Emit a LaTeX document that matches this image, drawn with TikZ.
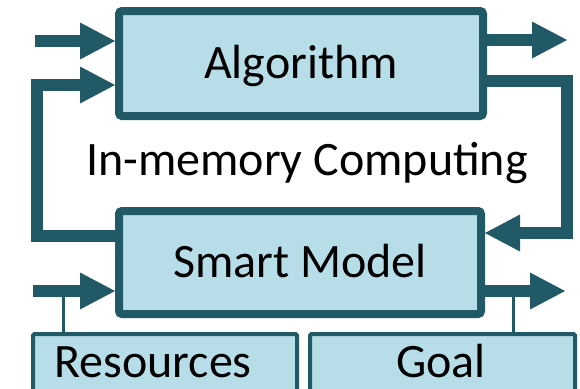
\documentclass[tikz,border=0pt]{standalone}
\usepackage{fontspec}
\setmainfont{Carlito}
\usetikzlibrary{arrows.meta}
\definecolor{tealdark}{HTML}{215967}
\definecolor{tealfill}{HTML}{B7DEE8}
\begin{document}
\begin{tikzpicture}[x=1pt,y=-1pt,
  mainbox/.style={draw=tealdark,fill=tealfill,line width=8pt,rounded corners=3pt,
    font=\fontsize{48}{50}\selectfont,text height=30pt,text depth=0pt,inner sep=0pt},
  sidebox/.style={draw=tealdark,fill=tealfill,line width=4pt,rounded corners=1.5pt,inner sep=0pt},
  caption/.style={font=\fontsize{48}{50}\selectfont,inner sep=0pt,anchor=base},
  flow/.style={draw=tealdark,line width=12pt,line join=miter},
  flowtip/.style={flow,-{Triangle[length=35pt,width=37pt,line width=0pt]}},
  link/.style={draw=tealdark,line width=3pt}]
\clip (0,0) rectangle (580,388);
\useasboundingbox (0,0) rectangle (580,388);

% main blocks
\node[mainbox,minimum width=364pt,minimum height=105pt] (alg) at (301,63.5) {Algorithm};
\node[mainbox,minimum width=362pt,minimum height=103pt] (model) at (300,262.5) {Smart Model};

% constraint blocks along the bottom edge
\node[sidebox,minimum width=264pt,minimum height=100pt,anchor=north] (res) at (165,332) {};
\node[sidebox,minimum width=265pt,minimum height=100pt,anchor=north] (goal) at (442.5,332) {};
\node[caption] (restext) at (153,377) {Resources};
\node[caption] (goaltext) at (441,377) {Goal};

% centre label
\node[caption] (imc) at (307,175) {In-memory Computing};

% free ends of the connectors
\coordinate (algin) at (35,41);
\coordinate (algout) at (567,40);
\coordinate (rtop) at (567,81);
\coordinate (rbot) at (567,233);
\coordinate (lbot) at (36.5,236);
\coordinate (ltop) at (36.5,85);
\coordinate (modin) at (33,291);
\coordinate (modout) at (565,291);
\coordinate (resjoin) at (63,291);
\coordinate (goaljoin) at (513,291);

% resource and goal taps
\draw[link] (resjoin) -- (resjoin |- res.north);
\draw[link] (goaljoin) -- (goaljoin |- goal.north);

% inputs and outputs
\draw[flowtip] (algin) -- (algin -| alg.west);
\draw[flowtip] (alg.east |- algout) -- (algout);
\draw[flowtip] (modin) -- (modin -| model.west);
\draw[flowtip] (model.east |- modout) -- (modout);

% feedback loops
\draw[flowtip] (alg.east |- rtop) -- (rtop) -- (rbot) -- (rbot -| model.east);
\draw[flowtip] (model.west |- lbot) -- (lbot) -- (ltop) -- (ltop -| alg.west);
\end{tikzpicture}
\end{document}
